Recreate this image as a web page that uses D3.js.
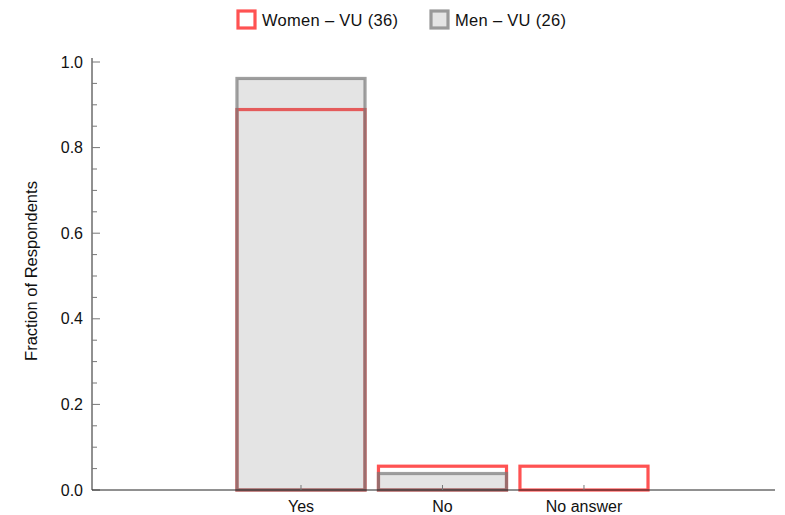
<!DOCTYPE html>
<html>
<head>
<meta charset="utf-8">
<script src="https://cdn.jsdelivr.net/npm/d3@7"></script>
<style>
body { margin: 0; background: #fff; }
svg { font-family: "Liberation Sans", Arial, sans-serif; }
</style>
</head>
<body>
<svg id="chart" width="785" height="515"></svg>
<script>
// answers and fractions (women: 32/36, 2/36, 2/36 ; men: 25/26, 1/26, 0)
var categories = ['Yes', 'No', 'No answer'];
var women = [0.8889, 0.0556, 0.0556];
var men = [0.9615, 0.0385, 0];
var seriesNames = ['Women \u2013 VU (36)', 'Men \u2013 VU (26)'];
var yTicks = [0, 0.2, 0.4, 0.6, 0.8, 1.0];

var svg = d3.select('#chart');
var margin = {left: 92, right: 10, top: 62, bottom: 25};
var width = 785, height = 515;
var fs = 16;

// categories sit at 1,2,3
var x = d3.scaleLinear().domain([-0.477, 4.35]).range([margin.left, width - margin.right]);
var y = d3.scaleLinear().domain([0, 1]).range([490, margin.top]);
var barW = 0.905;

var g = svg.append('g');

// women: red outline only
g.append('g').selectAll('rect')
	.data(women.map(function(v, i) { return {v: v, i: i}; })).enter()
	.append('rect')
	.attr('x', function(d) { return x(d.i + 1 - barW / 2); })
	.attr('width', x(barW) - x(0))
	.attr('y', function(d) { return y(d.v); })
	.attr('height', function(d) { return y(0) - y(d.v); })
	.attr('fill', 'none')
	.attr('stroke', '#ff5252')
	.attr('stroke-width', 3.2);

// men: translucent grey on top
g.append('g').selectAll('rect')
	.data(men.map(function(v, i) { return {v: v, i: i}; }).filter(function(d) { return d.v > 0; })).enter()
	.append('rect')
	.attr('x', function(d) { return x(d.i + 1 - barW / 2); })
	.attr('width', x(barW) - x(0))
	.attr('y', function(d) { return y(d.v); })
	.attr('height', function(d) { return y(0) - y(d.v); })
	.attr('fill', 'rgba(128,128,128,0.21)')
	.attr('stroke', 'rgba(120,120,120,0.7)')
	.attr('stroke-width', 3.2);

// y axis
var minor = d3.range(0, 1.0001, 0.05).filter(function(t) { return Math.round(t * 100) % 20 != 0; });
var yAxis = svg.append('g').attr('transform', 'translate(' + margin.left + ',0)');
yAxis.append('line').attr('x1', 0).attr('x2', 0).attr('y1', y(0)).attr('y2', y(1) - 4)
	.attr('stroke', '#222').attr('stroke-width', 1);
yAxis.selectAll('.major').data(yTicks).enter().append('line')
	.attr('x1', 0).attr('x2', 8).attr('y1', function(d) { return y(d); }).attr('y2', function(d) { return y(d); })
	.attr('stroke', '#777').attr('stroke-width', 1);
yAxis.selectAll('.minor').data(minor).enter().append('line')
	.attr('x1', 0).attr('x2', 5).attr('y1', function(d) { return y(d); }).attr('y2', function(d) { return y(d); })
	.attr('stroke', '#777').attr('stroke-width', 1);
yAxis.selectAll('text').data(yTicks).enter().append('text')
	.attr('x', -9).attr('y', function(d) { return y(d); }).attr('dy', '0.35em')
	.attr('text-anchor', 'end').attr('font-size', fs).attr('fill', '#111')
	.text(function(d) { return d3.format('.1f')(d); });

svg.append('text')
	.attr('transform', 'translate(37,271) rotate(-90)')
	.attr('text-anchor', 'middle').attr('font-size', 16.5).attr('fill', '#111')
	.text('Fraction of Respondents');

// x axis
var xAxis = svg.append('g');
xAxis.append('line').attr('x1', margin.left).attr('x2', width - margin.right)
	.attr('y1', y(0)).attr('y2', y(0)).attr('stroke', '#222').attr('stroke-width', 1);
xAxis.selectAll('.tick').data(categories).enter().append('line')
	.attr('x1', function(d, i) { return x(i + 1); }).attr('x2', function(d, i) { return x(i + 1); })
	.attr('y1', y(0)).attr('y2', y(0) - 5).attr('stroke', '#777');
xAxis.selectAll('text').data(categories).enter().append('text')
	.attr('x', function(d, i) { return x(i + 1); }).attr('y', 512)
	.attr('text-anchor', 'middle').attr('font-size', fs).attr('fill', '#111')
	.text(function(d) { return d; });

// legend
var legend = svg.append('g');
var lx = [238, 431];
legend.append('rect').attr('x', lx[0]).attr('y', 11).attr('width', 17).attr('height', 17)
	.attr('fill', '#fff').attr('stroke', '#ff5252').attr('stroke-width', 3.2);
legend.append('rect').attr('x', lx[1]).attr('y', 11).attr('width', 17).attr('height', 17)
	.attr('fill', '#e4e4e4').attr('stroke', '#999').attr('stroke-width', 3.2);
legend.selectAll('text').data(seriesNames).enter().append('text')
	.attr('x', function(d, i) { return lx[i] + 24; }).attr('y', 25.5)
	.attr('font-size', 16.5).attr('letter-spacing', 0.3).attr('fill', '#111')
	.text(function(d) { return d; });
</script>
</body>
</html>
